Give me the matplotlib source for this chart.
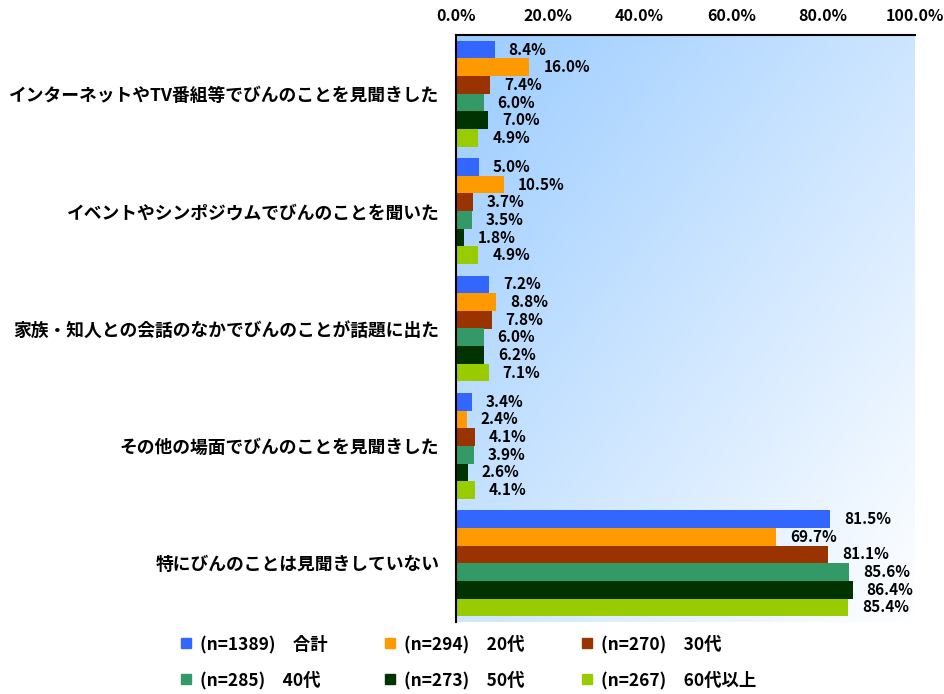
import numpy as np
import matplotlib.pyplot as plt
from matplotlib.lines import Line2D

plt.rcParams['font.family'] = ['Noto Sans CJK JP', 'DejaVu Sans']
plt.rcParams['font.weight'] = 'bold'

categories = [
    'インターネットやTV番組等でびんのことを見聞きした',
    'イベントやシンポジウムでびんのことを聞いた',
    '家族・知人との会話のなかでびんのことが話題に出た',
    'その他の場面でびんのことを見聞きした',
    '特にびんのことは見聞きしていない',
]
series_names = ['(n=1389)　合計', '(n=294)　20代', '(n=270)　30代',
                '(n=285)　40代', '(n=273)　50代', '(n=267)　60代以上']
total = [8.4, 5.0, 7.2, 3.4, 81.5]
age20 = [16.0, 10.5, 8.8, 2.4, 69.7]
age30 = [7.4, 3.7, 7.8, 4.1, 81.1]
age40 = [6.0, 3.5, 6.0, 3.9, 85.6]
age50 = [7.0, 1.8, 6.2, 2.6, 86.4]
age60 = [4.9, 4.9, 7.1, 4.1, 85.4]
series = [total, age20, age30, age40, age50, age60]
colors = ['#3366FF', '#FF9900', '#993300', '#339966', '#003300', '#99CC00']
xticks = [0, 20, 40, 60, 80, 100]

fig = plt.figure(figsize=(9.45, 6.94), dpi=100)
ax = fig.add_axes([456 / 945, 1 - 622 / 694, 459 / 945, 587 / 694])

# gradient background (light blue top-left -> white bottom-right)
n = 200
gx, gy = np.meshgrid(np.linspace(0, 1, n), np.linspace(0, 1, n))
t = (gx + gy) / 2
c0 = np.array([155, 204, 255]) / 255
c1 = np.array([255, 255, 255]) / 255
img = c0[None, None, :] * (1 - t[..., None]) + c1[None, None, :] * t[..., None]
ax.imshow(img, extent=[0, 1, 0, 1], transform=ax.transAxes, aspect='auto',
          zorder=0, origin='upper')

ncat = len(categories)
nser = len(series)
bar_h = 0.9 / nser
y0 = np.arange(ncat)
for i, (vals, col) in enumerate(zip(series, colors)):
    ypos = y0 - 0.45 + bar_h * (i + 0.5)
    ax.barh(ypos, vals, height=bar_h, color=col, zorder=2)
    for y, v in zip(ypos, vals):
        ax.annotate(f'{v:.1f}%', (v, y), xytext=(10, 0), textcoords='offset points',
                    va='center', ha='left', fontsize=11, fontweight='bold',
                    zorder=3)

ax.set_xlim(0, 100)
ax.set_ylim(ncat - 0.5, -0.5)
ax.xaxis.tick_top()
ax.set_xticks(xticks)
ax.set_xticklabels([f'{v:.1f}%' for v in xticks], fontsize=11.5, fontweight='bold')
ax.set_yticks(y0)
ax.set_yticklabels(categories, fontsize=12.8, fontweight='bold')
ax.tick_params(length=0, pad=12)
ax.tick_params(axis='x', pad=8)
ax.spines['right'].set_visible(False)
ax.spines['bottom'].set_visible(False)
ax.spines['top'].set_linewidth(1.5)
ax.spines['left'].set_linewidth(1.5)

handles = [Line2D([], [], marker='s', linestyle='', markersize=7,
                  markerfacecolor=c, markeredgecolor=c) for c in colors]
# legend fills column-major; reorder so rows read left to right
order = [0, 3, 1, 4, 2, 5]
fig.legend([handles[k] for k in order], [series_names[k] for k in order],
           loc='lower left', ncol=3, bbox_to_anchor=(160 / 945, -11 / 694),
           frameon=False, prop={'weight': 'bold', 'size': 12.5},
           handletextpad=0.2, handlelength=1.2, columnspacing=3.0,
           labelspacing=1.0)

fig.savefig('out.png', dpi=100)
